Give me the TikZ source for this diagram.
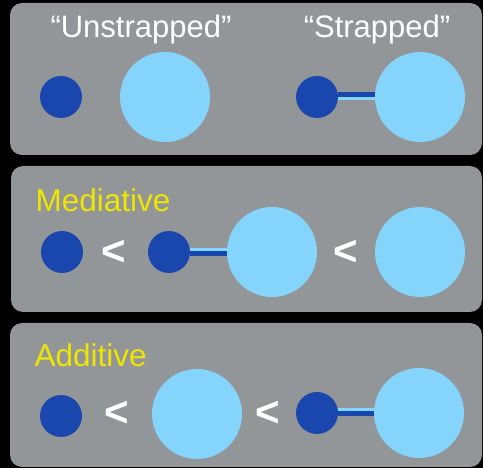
\documentclass[tikz,border=0pt]{standalone}
\usepackage{fontspec}
\setmainfont{Liberation Sans}

\definecolor{panelgray}{HTML}{939699}
\definecolor{ionblue}{HTML}{1A47AD}
\definecolor{watercyan}{HTML}{84D4FC}
\definecolor{labelyellow}{HTML}{EEE600}

\begin{document}
\begin{tikzpicture}[x=1pt, y=-1pt,
    panel/.style={fill=panelgray, rounded corners=12pt},
    ion/.style={circle, fill=ionblue, minimum size=42pt, inner sep=0pt},
    water/.style={circle, fill=watercyan, minimum size=90pt, inner sep=0pt},
    caption/.style={anchor=base, text=white, font=\fontsize{31}{31}\selectfont},
    kind/.style={anchor=base west, text=labelyellow, font=\fontsize{31.5}{31.5}\selectfont},
    less/.style={text=white, font=\bfseries\fontsize{42}{42}\selectfont},
    strapdark/.style={ionblue, line width=5pt},
    straplight/.style={watercyan, line width=3pt}]
    \fill[black] (0,0) rectangle (483,468);
    \clip (0,0) rectangle (483,468);

    % three panels
    \fill[panel] (10,3) rectangle (482,155);
    \fill[panel] (11,166) rectangle (482,312);
    \fill[panel] (10,323) rectangle (482,467);

    % unstrapped vs strapped
    \node[caption] (unstr) at (141,38) {“Unstrapped”};
    \node[caption] (str) at (377,38) {“Strapped”};
    \node[ion] (i1) at (61,97) {};
    \node[water] (w1) at (165,97) {};
    \node[ion] (i2) at (317,97) {};
    \node[water] (w2) at (420,97) {};
    \draw[strapdark] ([yshift=2.5pt]i2.east) -- ([yshift=2.5pt]w2.west);
    \draw[straplight] ([yshift=-2pt]i2.east) -- ([yshift=-2pt]w2.west);

    % mediative
    \node[kind] (med) at (32,212) {Mediative};
    \node[ion] (i3) at (62,252) {};
    \node[less] (lt1) at (114,253) {<};
    \node[ion] (i4) at (169,252) {};
    \node[water] (w3) at (272,252) {};
    \node[less] (lt2) at (346,253) {<};
    \node[water] (w4) at (420,252) {};
    \draw[straplight] ([yshift=2pt]i4.east) -- ([yshift=2pt]w3.west);
    \draw[strapdark] ([yshift=-2pt]i4.east) -- ([yshift=-2pt]w3.west);

    % additive
    \node[kind] (add) at (31,367) {Additive};
    \node[ion] (i5) at (61,416) {};
    \node[less] (lt3) at (117,414) {<};
    \node[water] (w5) at (197,414) {};
    \node[less] (lt4) at (268,414) {<};
    \node[ion] (i6) at (317,413) {};
    \node[water] (w6) at (419,413) {};
    \draw[straplight] ([yshift=3.5pt]i6.east) -- ([yshift=3.5pt]w6.west);
    \draw[strapdark] ([yshift=-1pt]i6.east) -- ([yshift=-1pt]w6.west);
\end{tikzpicture}
\end{document}
